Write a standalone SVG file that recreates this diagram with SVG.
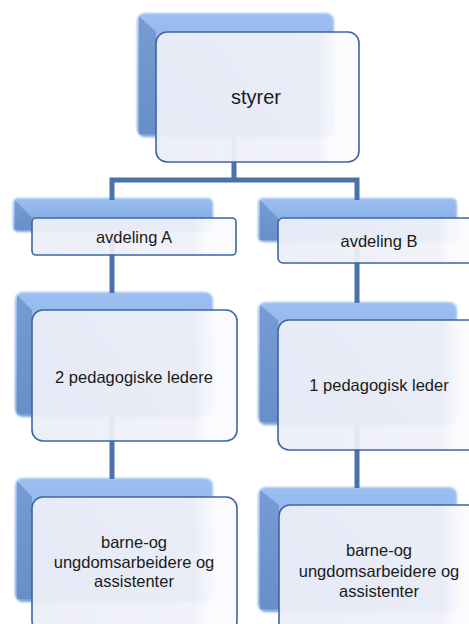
<svg xmlns="http://www.w3.org/2000/svg" width="469" height="624" viewBox="0 0 469 624">
<style>
.back{fill:url(#bg);filter:url(#soft)}
.bev{fill:#5479b3;opacity:0.5}
.front{fill:url(#fg);stroke:#3d66a0;stroke-width:1.6;fill-opacity:0.94}
.conn{fill:none;stroke:#4a72aa;stroke-width:5;stroke-linejoin:miter}
text{font-family:"Liberation Sans",Arial,sans-serif;font-size:16.5px;fill:#1a1a1a;text-anchor:middle}
</style>
<defs>
<linearGradient id="bg" x1="0" y1="0" x2="0" y2="1">
<stop offset="0" stop-color="#9cbff2"/>
<stop offset="1" stop-color="#7aa3dc"/>
</linearGradient>
<linearGradient id="fg" x1="0" y1="0" x2="1" y2="0">
<stop offset="0" stop-color="#eceef7"/>
<stop offset="0.8" stop-color="#f0f1f9"/>
<stop offset="0.85" stop-color="#fafafd"/>
<stop offset="1" stop-color="#fbfbfe"/>
</linearGradient>
<filter id="soft" x="-5%" y="-5%" width="110%" height="110%">
<feGaussianBlur stdDeviation="0.8"/>
</filter>
</defs>
<g id="back-shapes">
<rect class="back" x="137" y="13" width="197" height="124" rx="8"/>
<polygon class="bev" points="139,16 156,32 156,134 139,134"/>
<rect class="back" x="13" y="198" width="200" height="34" rx="5"/>
<polygon class="bev" points="15,200 32,218 32,230 15,230"/>
<rect class="back" x="258" y="198" width="199" height="44" rx="5"/>
<polygon class="bev" points="260,200 278,218 278,240 260,240"/>
<rect class="back" x="15" y="292" width="198" height="125" rx="8"/>
<polygon class="bev" points="17,295 32,310 32,414 17,414"/>
<rect class="back" x="258" y="302" width="199" height="123" rx="8"/>
<polygon class="bev" points="260,305 278,320 278,422 260,422"/>
<rect class="back" x="15" y="478" width="198" height="124" rx="8"/>
<polygon class="bev" points="17,481 32,497 32,599 17,599"/>
<rect class="back" x="258" y="487" width="199" height="125" rx="8"/>
<polygon class="bev" points="260,490 279,505 279,609 260,609"/>
</g>
<g id="connectors">
<path class="conn" d="M234,137 V180 M112,200 V180 H357 V200"/>
<path class="conn" d="M112,232 V293"/>
<path class="conn" d="M112,417 V479"/>
<path class="conn" d="M357,242 V303"/>
<path class="conn" d="M357,425 V488"/>
</g>
<g id="styrer">
<rect class="front" x="156" y="32" width="203" height="130" rx="11"/>
<text x="256" y="104" style="font-size:20px">styrer</text>
</g>
<g id="avdeling-a">
<rect class="front" x="32" y="218" width="204" height="37" rx="4"/>
<text x="134" y="243">avdeling A</text>
</g>
<g id="avdeling-b">
<rect class="front" x="278" y="218" width="200" height="45" rx="5"/>
<text x="379" y="247">avdeling B</text>
</g>
<g id="ped-a">
<rect class="front" x="32" y="310" width="205" height="131" rx="11"/>
<text x="134" y="383">2 pedagogiske ledere</text>
</g>
<g id="ped-b">
<rect class="front" x="278" y="320" width="205" height="130" rx="11"/>
<text x="379" y="391">1 pedagogisk leder</text>
</g>
<g id="ass-a">
<rect class="front" x="32" y="497" width="205" height="135" rx="11"/>
<text x="134" y="548">barne-og</text>
<text x="134" y="568">ungdomsarbeidere og</text>
<text x="134" y="587">assistenter</text>
</g>
<g id="ass-b">
<rect class="front" x="279" y="505" width="205" height="135" rx="11"/>
<text x="379" y="556">barne-og</text>
<text x="379" y="577">ungdomsarbeidere og</text>
<text x="379" y="597">assistenter</text>
</g>
</svg>
